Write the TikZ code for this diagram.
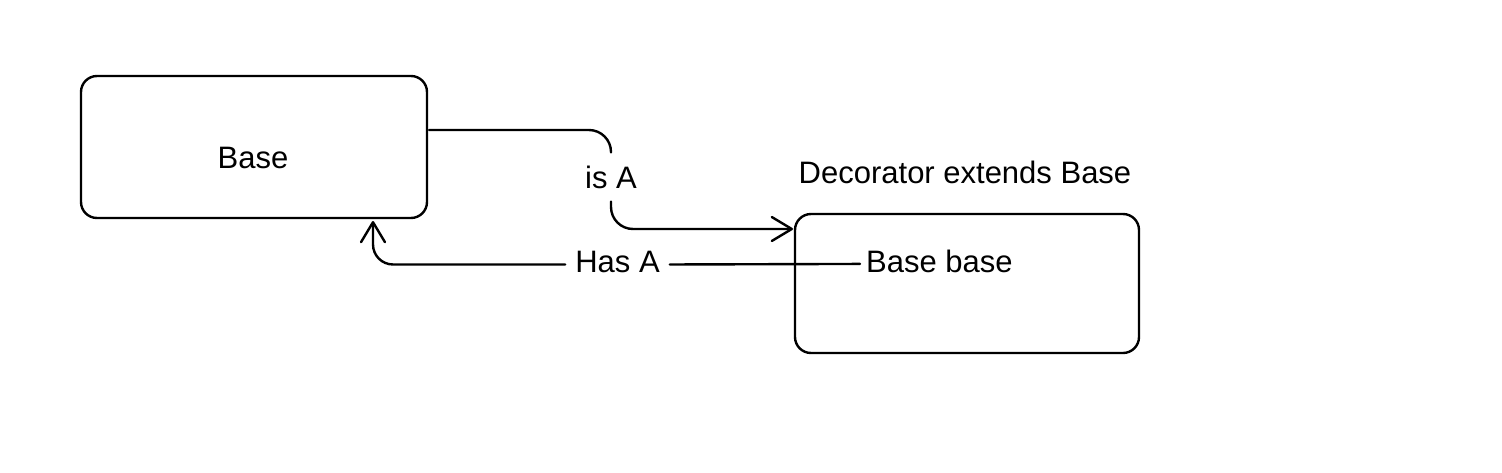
\documentclass[tikz,border=0pt]{standalone}
\usepackage{fontspec}
\setmainfont{Liberation Sans}
\usetikzlibrary{arrows.meta}
\begin{document}
\begin{tikzpicture}[x=1pt,y=-1pt,
  box/.style={draw, line width=2.4pt, rounded corners=16pt, minimum width=#1, inner sep=0pt},
  txt/.style={font=\fontsize{31}{36}\selectfont, inner sep=0pt, anchor=base},
  conn/.style={line width=2.4pt, line cap=round, rounded corners=22pt},
  tip/.style={-{Straight Barb[length=20pt,width=24pt,line cap=round,line join=round]}}
]
\useasboundingbox (0,0) rectangle (1502,472);
\fill[white] (0,0) rectangle (1502,472);
% boxes
\node[box=346pt, minimum height=142pt] (base) at (254,147) {};
\node[box=344pt, minimum height=139pt] (deco) at (967,283.5) {};
% texts
\node[txt] (basetxt) at (253,168) {Base};
\node[txt] (decotitle) at (965,183) {Decorator extends Base};
\node[txt, anchor=base west, inner xsep=6pt] (basebase) at (860,272) {Base base};
\node[txt, inner xsep=10pt, inner ysep=13pt] (isa) at (611,188) {is A};
\node[txt, inner xsep=10pt] (hasa) at (617.5,272) {Has A};
% coordinates
\coordinate (isastart) at (429,130);
\coordinate (isaend) at (793,229);
\coordinate (hasaend) at (373,221);
% is A
\draw[conn] (isastart) -| (isa.north);
\draw[conn, tip] (isa.south) |- (isaend);
% Has A
\draw[conn] ([yshift=-3pt]basebase.west) -- ([yshift=-3pt]hasa.east);
\draw[conn, rounded corners=20pt, tip] ([yshift=-3pt]hasa.west) -| (hasaend);
\end{tikzpicture}
\end{document}
